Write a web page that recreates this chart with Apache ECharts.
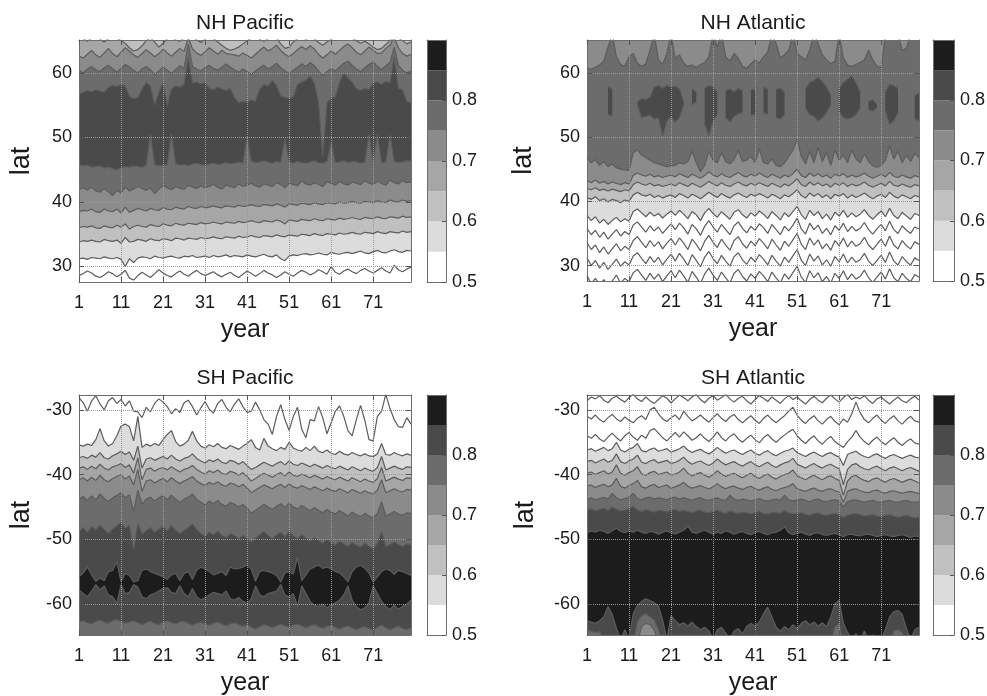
<!DOCTYPE html>
<html><head><meta charset="utf-8">
<script src="https://cdn.jsdelivr.net/npm/echarts@6/dist/echarts.min.js"></script>
<style>html,body{margin:0;padding:0;background:#fff}#c{width:987px;height:696px}</style>
</head><body><div id="c"></div>
<script>
const _ = null;
const years = [1,2,3,4,5,6,7,8,9,10,11,12,13,14,15,16,17,18,19,20,21,22,23,24,25,26,27,28,29,30,31,32,33,34,35,36,37,38,39,40,41,42,43,44,45,46,47,48,49,50,51,52,53,54,55,56,57,58,59,60,61,62,63,64,65,66,67,68,69,70,71,72,73,74,75,76,77,78,79,80];
const xTicks = [1,11,21,31,41,51,61,71];
const nhLatTicks = [30,40,50,60];
const shLatTicks = [-60,-50,-40,-30];
const cbLevels = [0.5,0.55,0.6,0.65,0.7,0.75,0.8,0.85,0.9];
const cbTicks = [0.5,0.6,0.7,0.8];

// ---- NH Pacific : latitude of each contour line, per year ----
const nhpB0 = [65.6,65.3,64.9,65.4,65.8,65.2,64.8,65.3,65.7,65.4, 65.0,64.6,63.9,63.4,63.6,64.2,65.0,65.4,64.8,64.0, 64.6,65.3,65.6,65.1,64.9,65.4,66.0,65.6,65.1,64.7, 65.2,65.6,65.3,64.8,64.3,63.8,63.5,63.7,64.0,64.5, 65.0,65.4,65.7,65.2,64.9,65.3,65.6,65.4,64.5,63.8, 64.0,64.8,65.3,65.6,65.2,65.5,65.3,64.7,64.3,64.8, 65.2,65.5,65.6,65.3,65.7,65.4,65.0,64.6,64.9,64.5, 64.0,63.6,63.8,64.4,65.0,66.0,65.4,65.0,64.5,64.8];
const nhpB1 = [62.6,62.3,62.9,63.5,62.8,62.4,63.1,63.8,63.0,62.5, 63.2,63.9,63.4,62.8,62.4,63.0,63.6,63.1,62.5,63.0, 63.7,63.1,62.6,63.2,63.8,63.3,65.5,63.7,63.1,62.7, 63.3,63.9,63.4,62.9,63.5,63.0,62.9,62.8,62.6,63.1, 62.7,62.3,62.9,63.5,64.0,63.4,63.8,64.3,63.5,62.9, 62.5,63.0,63.6,64.1,63.6,64.2,63.7,62.9,62.3,62.8, 63.4,62.9,63.5,64.1,64.5,63.9,63.2,62.8,63.4,64.0, 63.5,63.0,63.1,63.8,64.3,65.5,63.9,63.0,62.6,62.9];
const nhpB2 = [60.4,60.0,60.6,61.0,60.5,60.2,60.8,61.2,60.6,60.1, 60.7,61.3,60.9,60.4,60.0,60.6,61.0,60.5,59.8,60.3, 60.9,60.4,59.9,60.5,61.1,60.7,64.5,61.0,60.6,60.3, 60.8,61.2,60.7,60.4,60.9,61.4,60.9,60.5,60.1,60.6, 60.2,59.8,60.3,60.8,61.2,60.6,61.0,61.5,60.8,60.3, 59.9,60.4,60.9,61.4,61.0,61.6,61.1,60.3,59.6,60.2, 60.7,60.3,60.9,61.5,61.8,61.2,60.6,60.2,60.8,61.3, 61.7,61.0,60.5,61.1,61.6,64.0,61.2,60.4,60.0,60.3];
const nhpB3 = [56.7,57.0,57.3,57.1,57.4,57.2,57.0,57.8,58.1,57.9, 58.2,58.0,56.4,56.0,56.2,57.5,58.5,58.0,55.0,57.0, 58.5,55.0,57.5,58.0,57.8,58.2,62.5,58.4,58.6,58.3, 58.5,57.6,57.4,57.8,57.5,57.3,57.6,56.2,55.4,55.6, 55.5,55.8,55.6,57.5,58.2,58.0,58.8,58.1,56.4,56.2, 56.0,56.3,58.2,58.6,58.9,59.5,58.4,55.5,47.0,55.4, 56.1,56.3,58.5,60.0,59.2,58.6,57.5,57.3,57.6,57.4, 58.4,58.6,58.2,58.7,58.5,62.5,57.6,57.4,55.6,55.4];
const nhpB4 = [45.8,45.6,45.7,45.4,45.5,45.6,45.3,45.4,45.2,45.0, 45.3,45.5,45.4,45.6,45.5,45.4,45.7,50.6,45.8,45.6, 45.7,45.8,50.6,45.9,45.7,45.8,45.6,45.9,46.0,45.8, 45.7,45.9,46.0,45.8,45.9,46.1,45.9,46.0,46.2,46.0, 50.2,46.3,46.1,46.2,46.4,46.2,46.0,46.3,46.1,49.8, 46.2,46.0,46.3,46.1,46.0,46.2,46.4,46.1,46.0,46.3, 49.2,46.1,46.2,46.4,46.1,46.3,46.2,46.0,46.2,50.4, 46.3,50.4,46.1,46.2,50.4,46.3,46.1,46.2,46.4,46.3];
const nhpB5 = [41.9,42.2,41.8,42.3,41.7,41.5,42.1,41.6,41.0,41.8, 41.4,42.3,41.7,42.0,42.4,42.1,41.8,42.2,41.3,42.0, 42.5,42.2,41.9,42.4,42.1,42.0,42.6,42.3,42.1,42.5, 42.2,42.4,42.7,42.3,42.0,42.6,42.4,42.2,42.8,42.4, 42.6,42.9,42.5,42.3,42.8,42.6,42.4,43.0,42.7,42.2, 42.9,42.7,42.5,43.3,42.8,42.6,43.0,42.7,42.4,43.1, 42.9,42.6,43.2,42.8,42.6,43.1,42.9,42.7,43.3,42.9, 42.7,43.2,42.9,42.6,43.4,43.0,42.8,43.3,43.0,43.1];
const nhpB6 = [38.5,38.7,38.6,38.9,38.5,38.4,38.9,38.6,38.5,38.9, 38.3,39.2,38.4,38.7,39.0,38.8,38.6,39.0,38.8,38.7, 39.1,38.9,38.8,39.2,39.0,38.9,39.3,39.1,39.0,39.3, 39.1,39.2,39.4,39.2,39.1,39.4,39.3,39.2,39.5,39.3, 39.4,39.6,39.4,39.3,39.6,39.5,39.4,39.7,39.5,39.2, 39.7,39.6,39.5,39.8,39.7,39.6,39.9,39.7,39.6,39.9, 39.8,39.7,40.0,39.8,39.9,40.1,39.9,39.8,40.1,40.0, 39.9,40.2,40.0,39.9,40.3,40.1,40.0,40.3,40.1,40.2];
const nhpB7 = [36.0,36.2,36.1,36.3,36.0,35.9,36.3,36.1,36.0,36.4, 36.1,36.6,35.8,36.2,36.4,36.2,36.1,36.5,36.3,36.2, 36.6,36.4,36.3,36.7,36.5,36.4,36.7,36.6,36.5,36.8, 36.6,36.7,36.9,36.7,36.6,36.9,36.8,36.7,37.0,36.8, 36.9,37.1,36.9,36.8,37.1,37.0,36.9,37.2,37.0,36.6, 37.2,37.1,37.0,37.3,37.2,37.1,37.4,37.2,37.1,37.4, 37.3,37.2,37.5,37.3,37.4,37.6,37.4,37.3,37.6,37.5, 37.4,37.7,37.5,37.4,37.7,37.6,37.5,37.8,37.6,37.7];
const nhpB8 = [33.8,34.0,33.9,34.1,33.9,33.8,34.2,34.0,33.9,34.1, 33.6,34.5,33.8,33.9,34.2,34.1,33.9,34.3,34.1,34.0, 34.3,34.2,34.0,34.4,34.3,34.1,34.4,34.3,34.2,34.5, 34.3,34.4,34.6,34.4,34.3,34.6,34.5,34.4,34.7,34.5, 34.6,34.8,34.6,34.5,34.8,34.7,34.6,34.9,34.7,34.6, 34.9,34.8,34.7,35.0,34.9,34.8,35.1,34.9,34.8,35.1, 35.0,34.9,35.2,35.0,35.1,35.3,35.1,35.0,35.3,35.2, 35.1,35.4,35.2,35.1,35.4,35.3,35.2,35.5,35.3,35.4];
const nhpB9 = [31.2,31.3,31.1,31.4,31.3,31.2,31.5,31.3,31.2,31.4, 31.1,30.0,31.2,30.6,31.3,31.5,31.4,31.2,31.6,31.4, 31.3,31.5,31.6,31.4,31.3,31.6,31.5,31.7,31.4,31.5, 31.6,31.4,31.7,31.5,31.6,31.8,31.5,31.7,31.6,31.5, 31.8,31.6,31.5,31.7,31.9,31.6,31.5,31.8,31.2,30.9, 31.6,31.8,31.7,31.9,32.0,31.8,31.9,32.1,31.9,31.8, 32.2,32.0,31.9,32.1,32.2,32.0,32.2,32.4,32.1,32.0, 32.3,32.5,32.2,32.1,32.4,32.6,32.3,32.2,32.5,32.4];
const nhpB10 = [28.6,28.9,29.3,29.0,28.5,28.3,28.7,29.2,28.9,28.4, 28.8,29.4,28.2,27.9,28.6,29.1,28.7,28.3,28.9,29.5, 29.0,28.6,28.4,28.9,29.3,28.8,28.5,29.0,29.4,28.9, 28.6,28.9,29.2,28.7,28.4,28.8,29.1,28.6,28.3,28.8, 29.3,28.9,28.5,28.9,29.4,29.0,28.7,28.3,28.7,29.2, 28.8,28.5,29.0,29.4,29.1,28.7,29.0,29.5,29.2,28.8, 30.0,29.1,28.8,29.3,29.6,29.2,28.9,29.4,29.7,29.3, 29.0,29.4,29.8,29.3,29.0,30.2,29.5,29.2,29.6,29.9];

// ---- NH Atlantic ----
const nhaTop = [60.8,60.5,60.9,61.2,61.8,64.0,66.0,62.5,61.3,61.0, 62.5,63.0,61.5,61.0,61.4,63.5,66.0,62.0,61.3,63.0, 66.0,62.2,62.8,61.5,61.0,61.2,60.8,61.3,61.6,62.5, 66.0,64.0,66.0,62.5,61.8,63.0,62.2,61.0,60.7,61.4, 62.0,61.5,62.5,63.2,66.0,64.5,62.3,62.8,63.5,66.0, 63.0,62.5,62.0,63.5,66.0,64.5,62.8,62.0,61.4,61.8, 66.0,62.3,61.2,61.0,61.3,61.6,62.0,63.5,62.0,61.0, 60.8,66.0,66.0,66.0,66.0,63.5,63.8,66.0,66.0,66.0];
const nhaBlobTop = [_,_,_,_,_,57.8,57.5,_,_,_, _,_,55.5,56.0,55.8,56.2,57.8,58.0,57.6,58.0, 57.8,57.9,57.5,55.5,_,57.5,57.0,_,57.6,58.0, 57.8,57.0,_,57.2,57.5,57.0,57.6,57.2,_,57.4, 57.3,_,57.8,57.5,_,57.4,57.6,57.0,_,_, _,_,57.5,58.5,58.8,59.3,58.6,57.8,56.5,_, 57.5,58.5,59.0,59.5,58.5,57.0,_,55.5,55.8,55.0, _,57.0,58.2,58.0,57.5,_,_,_,56.5,56.8];
const nhaBlobBot = [_,_,_,_,_,53.5,53.3,_,_,_, _,_,55.0,53.0,53.2,53.4,52.8,53.0,50.2,52.5, 53.2,52.3,53.0,55.0,_,55.0,55.5,_,52.0,50.2, 52.5,53.5,_,53.0,52.3,53.2,53.6,53.8,_,53.4, 53.5,_,53.8,53.5,_,53.0,52.8,53.5,_,_, _,_,54.5,53.5,53.2,52.5,53.0,53.8,55.0,_, 54.0,53.0,52.8,53.0,53.5,54.5,_,54.3,54.0,54.6, _,54.0,52.0,52.5,53.8,_,_,_,52.8,52.5];
const nhaB6 = [46.8,46.0,46.5,45.6,46.2,45.4,45.8,45.2,45.0,44.9, 44.8,47.6,48.0,47.2,46.8,46.4,46.0,45.8,45.6,45.4, 45.5,45.6,46.0,45.8,46.2,47.8,46.0,44.6,45.6,47.8, 46.4,46.0,47.6,46.2,45.8,46.5,47.9,46.2,46.4,47.0, 46.0,48.2,46.0,45.8,46.6,45.6,45.4,46.0,47.0,48.0, 49.6,47.0,45.8,47.8,46.0,48.4,46.2,47.6,45.6,48.0, 46.4,47.2,46.0,48.0,46.6,46.0,47.4,46.2,45.5,45.3, 45.6,46.4,48.6,46.6,47.8,46.0,47.2,46.2,47.5,46.8];
const nhaB5 = [43.2,42.9,43.3,42.8,43.1,42.7,43.0,42.8,42.6,42.9, 42.7,44.0,44.4,44.1,43.9,44.2,43.8,44.0,43.7,43.9, 44.1,43.8,44.3,44.0,43.7,44.2,43.9,43.6,44.0,44.6, 44.1,43.8,44.3,43.9,43.7,44.1,44.5,44.0,43.8,44.2, 43.9,44.4,44.0,43.7,44.2,43.9,43.6,44.1,43.8,44.3, 45.0,44.0,43.7,44.4,43.9,44.3,43.8,44.1,43.6,44.2, 43.9,44.3,43.7,44.1,43.8,44.0,44.4,43.9,43.6,43.9, 44.2,43.8,44.5,43.9,43.7,44.1,43.8,43.6,44.0,43.8];
const nhaB4 = [42.0,41.8,42.1,41.7,41.9,41.6,41.9,41.7,41.5,41.8, 41.6,42.6,43.0,42.7,42.5,42.8,42.4,42.6,42.3,42.5, 42.7,42.4,42.9,42.6,42.3,42.8,42.5,42.2,42.6,43.1, 42.7,42.4,42.9,42.5,42.3,42.7,43.0,42.6,42.4,42.8, 42.5,42.9,42.6,42.3,42.8,42.5,42.2,42.7,42.4,42.9, 43.5,42.6,42.3,43.0,42.5,42.9,42.4,42.7,42.2,42.8, 42.5,42.9,42.3,42.7,42.4,42.6,43.0,42.5,42.2,42.5, 42.8,42.4,43.1,42.5,42.3,42.7,42.4,42.2,42.6,42.4];
const nhaB3 = [40.6,40.3,40.7,40.1,40.4,39.9,40.3,40.1,39.8,40.2, 40.0,41.0,41.4,41.0,40.8,41.1,40.6,40.9,40.5,40.8, 41.0,40.6,41.2,40.9,40.5,41.1,40.8,40.4,40.9,41.4, 41.0,40.6,41.2,40.8,40.5,41.0,41.3,40.9,40.6,41.1, 40.8,41.2,40.9,40.5,41.1,40.8,40.4,41.0,40.7,41.2, 41.8,40.9,40.5,41.3,40.8,41.2,40.6,41.0,40.4,41.1, 40.8,41.2,40.5,41.0,40.6,40.9,41.3,40.8,40.4,40.8, 41.1,40.6,41.4,40.8,40.5,41.0,40.7,40.4,40.9,40.7];
const nhaB2 = [37.8,37.0,37.6,36.6,37.2,36.4,37.0,37.5,36.8,37.3, 36.9,38.4,38.8,38.2,37.6,38.3,37.7,38.1,37.4,38.0, 38.5,37.8,38.6,38.0,37.3,38.4,37.9,37.0,38.2,38.9, 38.1,37.5,38.4,37.8,37.2,38.3,38.7,37.9,37.4,38.2, 37.7,38.5,38.0,37.3,38.4,37.8,37.1,38.2,37.6,38.4, 39.2,37.9,37.2,38.6,37.8,38.4,37.3,38.0,37.1,38.3, 37.7,38.6,37.5,38.2,37.6,38.0,38.7,37.8,37.2,37.9, 38.5,37.6,38.9,37.8,37.3,38.3,37.7,37.2,38.1,37.8];
const nhaB1 = [35.8,34.8,35.5,34.4,35.2,34.1,34.9,35.6,34.6,35.3, 34.8,36.3,36.8,36.0,35.2,36.2,35.4,36.0,35.0,35.8, 36.5,35.6,36.6,35.9,34.9,36.4,35.7,34.7,36.1,37.0, 36.0,35.2,36.4,35.6,34.8,36.2,36.8,35.8,35.1,36.1, 35.5,36.5,35.9,35.0,36.4,35.6,34.8,36.1,35.4,36.3, 37.4,35.7,34.9,36.6,35.6,36.3,35.0,35.8,34.8,36.2, 35.5,36.6,35.3,36.1,35.4,35.8,36.7,35.6,34.9,35.7, 36.4,35.4,36.9,35.6,35.0,36.2,35.5,35.0,36.0,35.7];
const nhaB0a = [33.6,32.5,33.2,32.0,32.9,31.8,32.6,33.4,32.3,33.0, 32.5,33.9,34.5,33.6,32.8,33.9,33.0,33.7,32.6,33.5, 34.2,33.2,34.3,33.5,32.5,34.1,33.3,32.3,33.8,34.7, 33.6,32.8,34.1,33.2,32.4,33.9,34.5,33.4,32.7,33.8, 33.1,34.2,33.5,32.6,34.1,33.2,32.4,33.8,33.0,34.0, 35.0,33.3,32.5,34.3,33.2,34.0,32.6,33.4,32.4,33.9, 33.1,34.3,32.9,33.8,33.0,33.4,34.4,33.2,32.5,33.3, 34.1,33.0,34.6,33.2,32.6,33.9,33.1,32.6,33.7,33.3];
const nhaB0b = [31.2,30.0,30.8,29.6,30.5,29.4,30.2,31.0,29.9,30.6, 30.1,31.5,32.0,31.1,30.3,31.4,30.5,31.3,30.1,31.0, 31.8,30.7,31.9,31.0,30.0,31.7,30.8,29.8,31.3,32.2, 31.1,30.3,31.6,30.7,29.9,31.4,32.0,30.9,30.2,31.3, 30.6,31.7,31.0,30.1,31.6,30.7,29.9,31.3,30.5,31.5, 32.5,30.8,30.0,31.8,30.7,31.5,30.1,30.9,29.9,31.4, 30.6,31.8,30.4,31.3,30.5,30.9,31.9,30.7,30.0,30.8, 31.6,30.5,32.1,30.7,30.1,31.4,30.6,30.1,31.2,30.8];
const nhaB0c = [28.4,27.2,28.0,27.0,27.8,26.9,27.6,28.5,27.3,28.0, 27.5,28.9,29.4,28.5,27.7,28.8,27.9,28.7,27.5,28.4, 29.2,28.1,29.3,28.4,27.4,29.1,28.2,27.2,28.7,29.6, 28.5,27.7,29.0,28.1,27.3,28.8,29.4,28.3,27.6,28.7, 28.0,29.1,28.4,27.5,29.0,28.1,27.3,28.7,27.9,28.9, 29.9,28.2,27.4,29.2,28.1,28.9,27.5,28.3,27.3,28.8, 28.0,29.2,27.8,28.7,27.9,28.3,29.3,28.1,27.4,28.2, 29.0,27.9,29.5,28.1,27.5,28.8,28.0,27.5,28.6,28.2];

// ---- SH Pacific ----
const shpL1 = [-28.1,-28.9,-30.2,-28.6,-27.8,-29.1,-30.0,-28.6,-28.1,-29.0, -28.4,-29.4,-28.6,-30.2,-30.3,-31.2,-29.6,-30.3,-29.0,-28.3, -28.8,-29.5,-30.6,-29.8,-30.4,-28.9,-28.5,-29.5,-30.8,-29.7, -28.7,-29.9,-30.5,-29.0,-28.4,-29.6,-30.3,-29.1,-28.3,-29.5, -30.4,-30.2,-28.8,-30.0,-31.5,-32.2,-33.8,-31.0,-29.2,-31.5, -33.2,-31.0,-29.6,-33.0,-34.3,-31.5,-31.7,-29.5,-31.2,-33.7, -32.0,-30.2,-29.4,-31.0,-33.2,-34.0,-31.5,-29.3,-31.6,-34.6, -34.8,-31.0,-30.2,-27.6,-29.8,-31.5,-32.6,-32.7,-31.2,-32.2];
const shpL2 = [-35.4,-35.6,-35.3,-35.5,-34.6,-32.9,-34.8,-35.6,-35.2,-34.0, -32.5,-32.2,-32.6,-34.8,-31.0,-35.8,-35.3,-35.6,-35.2,-35.5, -34.6,-33.8,-33.2,-34.9,-35.6,-35.3,-34.7,-33.3,-34.8,-35.6, -35.9,-35.4,-35.7,-35.2,-35.8,-36.0,-35.5,-35.8,-36.1,-35.6, -35.2,-34.6,-35.8,-36.2,-34.4,-35.6,-36.0,-36.3,-35.8,-36.1, -35.0,-35.9,-36.2,-36.4,-35.8,-36.3,-35.6,-36.4,-36.6,-36.2, -36.7,-36.9,-36.4,-36.8,-37.0,-36.6,-36.9,-37.1,-36.8,-37.1, -37.2,-36.8,-35.2,-36.9,-37.0,-36.6,-36.9,-37.1,-36.8,-37.0];
const shpL3 = [-37.4,-37.2,-37.5,-37.0,-37.3,-36.6,-37.4,-37.6,-37.1,-36.8, -36.4,-36.9,-36.5,-37.8,-35.6,-39.0,-37.6,-37.4,-37.8,-37.5, -37.2,-37.6,-37.0,-37.6,-37.9,-37.5,-37.3,-36.8,-37.5,-37.9, -38.2,-37.7,-38.0,-37.6,-38.1,-38.3,-37.8,-38.0,-38.4,-38.0, -38.6,-39.2,-38.9,-38.5,-38.1,-38.4,-38.7,-38.3,-38.0,-38.5, -37.9,-38.4,-38.6,-38.2,-38.5,-38.8,-38.4,-38.7,-39.0,-38.6, -38.9,-39.1,-38.7,-39.0,-39.3,-38.8,-39.1,-39.4,-39.0,-39.3, -39.5,-38.9,-37.2,-39.3,-39.0,-38.7,-39.0,-39.2,-38.8,-38.9];
const shpL4 = [-39.0,-38.8,-39.2,-38.7,-39.1,-38.4,-39.0,-39.3,-38.8,-38.6, -38.3,-38.9,-38.5,-39.8,-37.4,-40.8,-39.2,-39.0,-39.5,-39.1, -38.9,-39.3,-38.8,-39.2,-39.6,-39.2,-39.0,-38.6,-39.2,-39.6, -39.9,-39.4,-39.7,-39.3,-39.8,-40.0,-39.5,-39.7,-40.1,-39.7, -40.3,-41.0,-40.6,-40.2,-39.8,-40.1,-40.4,-40.0,-39.7,-40.2, -39.6,-40.1,-40.3,-39.9,-40.2,-40.5,-40.1,-40.4,-40.7,-40.3, -40.6,-40.8,-40.4,-40.7,-41.0,-40.5,-40.8,-41.1,-40.7,-41.0, -41.2,-40.6,-38.9,-41.0,-40.7,-40.4,-40.7,-40.9,-40.5,-40.6];
const shpL5 = [-40.8,-40.5,-41.0,-40.4,-40.9,-40.1,-40.8,-41.1,-40.6,-40.3, -40.0,-40.7,-40.2,-41.6,-39.2,-42.6,-41.0,-40.8,-41.3,-40.9, -40.6,-41.1,-40.5,-41.0,-41.4,-41.0,-40.7,-40.3,-41.0,-41.4, -41.7,-41.2,-41.5,-41.1,-41.6,-41.8,-41.3,-41.5,-41.9,-41.5, -42.1,-42.8,-42.4,-42.0,-41.6,-41.9,-42.2,-41.8,-41.5,-42.0, -41.4,-41.9,-42.1,-41.7,-42.0,-42.3,-41.9,-42.2,-42.5,-42.1, -42.4,-42.6,-42.2,-42.5,-42.8,-42.3,-42.6,-42.9,-42.5,-42.8, -43.0,-42.4,-40.8,-42.8,-42.5,-42.2,-42.5,-42.7,-42.3,-42.4];
const shpL6 = [-43.8,-43.4,-44.0,-43.3,-43.9,-43.0,-43.7,-44.2,-43.6,-43.2, -42.8,-43.6,-43.1,-45.8,-42.4,-44.6,-43.8,-43.5,-44.1,-43.6, -43.3,-43.9,-43.2,-43.8,-44.3,-43.8,-43.5,-43.0,-43.8,-44.3, -44.7,-44.1,-44.5,-44.0,-44.6,-44.9,-44.3,-44.6,-45.0,-44.6, -45.2,-46.0,-45.5,-45.1,-44.6,-45.0,-45.4,-44.9,-44.5,-45.1, -44.4,-45.0,-45.3,-44.8,-45.2,-45.6,-45.1,-45.5,-45.9,-45.4, -45.8,-46.1,-45.6,-46.0,-46.4,-45.8,-46.2,-46.5,-46.0,-46.4, -46.7,-46.0,-44.2,-46.4,-46.1,-45.7,-46.1,-46.3,-45.9,-46.0];
const shpL7 = [-48.8,-48.2,-48.9,-48.0,-48.6,-47.8,-48.5,-49.1,-48.4,-47.9, -47.4,-48.3,-47.8,-51.6,-47.6,-49.2,-48.6,-48.2,-48.9,-48.4, -48.0,-48.7,-47.9,-48.6,-49.1,-48.6,-48.2,-47.6,-48.5,-49.1, -49.5,-48.9,-49.3,-48.7,-49.4,-49.7,-49.1,-49.4,-49.9,-49.4, -49.8,-50.4,-49.8,-49.3,-48.8,-49.4,-49.9,-49.3,-48.9,-49.6, -48.8,-49.5,-49.9,-49.3,-49.8,-50.3,-49.7,-50.2,-50.6,-50.0, -50.5,-50.9,-50.3,-50.7,-51.1,-50.5,-50.9,-51.2,-50.6,-51.1, -51.4,-50.6,-48.8,-51.1,-50.8,-50.4,-50.8,-51.1,-50.7,-50.9];
const shpBlobTop = [-55.8,-55.2,-54.3,-55.5,-56.5,-56.0,-56.4,-55.0,-54.8,-53.5, -56.6,-55.3,-55.6,-56.6,-56.4,-54.8,-54.6,-55.0,-55.3,-55.5, -55.8,-56.2,-55.5,-55.3,-56.4,-55.3,-55.0,-56.2,-54.8,-54.3, -54.6,-55.0,-55.5,-55.3,-55.0,-55.6,-54.3,-54.6,-54.5,-54.3, -54.0,-54.6,-56.5,-55.0,-54.8,-55.0,-55.2,-55.6,-56.6,-55.2, -55.0,-55.4,-52.8,-56.4,-55.5,-54.6,-54.3,-54.0,-54.5,-54.3, -54.6,-55.0,-55.2,-55.8,-56.6,-55.0,-54.3,-54.0,-54.5,-55.2, -56.6,-55.8,-55.0,-54.6,-54.8,-55.4,-54.8,-55.0,-55.3,-55.6];
const shpBlobBot = [-57.8,-58.4,-58.9,-58.0,-57.0,-57.8,-57.2,-58.6,-58.9,-59.9, -57.0,-58.4,-58.2,-57.0,-57.4,-58.9,-59.2,-58.6,-58.4,-58.0, -57.6,-57.5,-58.2,-58.4,-57.2,-58.4,-58.9,-57.6,-58.9,-59.4, -59.0,-58.6,-58.2,-58.4,-58.6,-58.0,-59.2,-59.4,-59.0,-59.6, -59.9,-59.2,-57.2,-58.6,-58.9,-58.4,-58.2,-58.0,-57.0,-58.6, -58.9,-58.4,-60.4,-57.2,-58.4,-59.6,-60.2,-60.4,-60.0,-60.6, -60.2,-59.8,-59.4,-58.6,-57.2,-59.4,-60.4,-60.9,-60.6,-59.8, -57.2,-58.4,-59.6,-60.4,-60.9,-60.2,-60.8,-60.4,-60.0,-59.4];
const shpL8 = [-62.8,-62.6,-62.9,-63.1,-62.7,-62.5,-62.8,-63.0,-62.6,-62.4, -62.7,-63.0,-62.8,-62.6,-62.9,-63.2,-62.9,-62.7,-63.0,-63.2, -62.8,-62.6,-62.9,-63.1,-62.8,-62.7,-63.0,-63.3,-63.0,-62.8, -63.1,-63.3,-63.0,-62.8,-63.1,-63.4,-63.1,-62.9,-63.2,-63.5, -63.2,-63.6,-63.9,-63.5,-63.2,-63.4,-63.7,-63.4,-63.1,-63.4, -63.6,-63.3,-63.1,-63.4,-63.7,-63.4,-63.2,-63.5,-63.8,-63.5, -63.3,-63.6,-63.9,-63.6,-63.4,-63.7,-64.0,-63.7,-63.5,-63.8, -64.1,-63.6,-63.3,-63.7,-64.0,-63.7,-63.4,-63.8,-64.0,-63.7];

// ---- SH Atlantic ----
const shaS1 = [-28.6,-28.0,-28.3,-27.8,-28.5,-28.9,-28.2,-27.9,-28.4,-28.8, -28.1,-27.6,-28.3,-28.7,-28.0,-28.6,-29.0,-28.4,-27.8,-28.2, -28.9,-28.3,-27.7,-28.1,-28.6,-28.0,-27.6,-28.4,-28.9,-28.2, -27.8,-28.5,-28.1,-27.6,-28.3,-28.8,-28.2,-27.9,-28.6,-29.1, -28.4,-27.8,-28.2,-28.7,-28.0,-28.5,-29.0,-28.3,-27.8,-28.4, -28.0,-28.6,-29.1,-28.4,-27.9,-28.5,-28.9,-28.2,-27.7,-28.3, -28.8,-28.1,-27.6,-28.4,-28.0,-28.3,-27.8,-28.5,-29.0,-28.3, -28.0,-28.6,-29.1,-28.5,-28.0,-28.6,-28.9,-28.3,-27.9,-28.5];
const shaS2 = [-31.0,-31.4,-30.8,-31.5,-31.9,-31.2,-30.7,-31.4,-31.8,-31.1, -31.6,-32.0,-31.3,-30.9,-31.5,-30.0,-29.6,-30.6,-31.4,-31.8, -31.2,-30.8,-31.5,-30.2,-31.0,-31.7,-31.3,-30.8,-31.4,-31.9, -31.2,-30.6,-31.3,-31.8,-31.1,-30.7,-31.5,-32.0,-31.4,-30.9, -31.6,-32.1,-31.3,-30.8,-31.5,-32.0,-31.4,-30.9,-30.2,-29.6, -30.8,-31.6,-32.1,-31.4,-30.9,-31.7,-32.2,-31.5,-31.0,-31.8, -32.3,-31.4,-31.9,-30.6,-28.8,-30.4,-31.5,-32.0,-31.3,-30.8, -31.6,-32.1,-31.4,-30.9,-31.7,-32.2,-31.5,-31.0,-31.7,-31.9];
const shaS3 = [-34.0,-34.4,-33.8,-34.5,-34.9,-34.2,-33.6,-34.3,-34.8,-34.0, -33.5,-34.2,-34.7,-33.9,-34.4,-33.2,-32.9,-33.6,-34.3,-34.8, -34.1,-33.5,-34.2,-33.4,-34.0,-34.7,-34.3,-33.7,-34.4,-34.9, -34.2,-33.4,-34.3,-34.8,-34.1,-33.7,-34.5,-35.0,-34.4,-33.9, -34.6,-35.1,-34.3,-33.8,-34.5,-35.0,-34.4,-33.9,-33.4,-33.0, -34.0,-34.7,-35.2,-34.5,-34.0,-34.8,-35.3,-34.6,-34.1,-34.9, -35.4,-35.8,-34.9,-34.2,-33.2,-34.2,-34.9,-35.4,-34.7,-34.2, -34.9,-35.4,-34.8,-34.3,-35.0,-35.5,-34.9,-34.5,-35.1,-35.3];
const shaS4 = [-36.2,-36.0,-36.4,-36.1,-35.8,-36.3,-36.0,-35.0,-36.2,-36.5, -36.1,-35.8,-35.2,-36.3,-36.5,-36.1,-35.9,-36.4,-36.2,-36.0, -36.5,-36.3,-36.0,-35.6,-36.2,-36.6,-36.3,-36.1,-36.5,-36.8, -36.4,-35.8,-36.3,-36.7,-36.4,-36.2,-36.6,-36.9,-36.5,-36.2, -36.7,-37.0,-36.6,-36.3,-36.8,-37.1,-36.7,-36.4,-36.2,-35.9, -36.6,-36.9,-37.2,-36.8,-36.5,-36.9,-37.2,-36.8,-36.6,-37.0, -37.3,-38.6,-36.9,-36.6,-36.4,-36.9,-37.2,-37.4,-37.0,-36.8, -37.2,-37.5,-37.1,-36.9,-37.2,-37.5,-37.2,-37.0,-37.3,-37.4];
const shaS5 = [-38.0,-37.8,-38.2,-37.9,-37.6,-38.1,-37.8,-36.8,-38.0,-38.3, -37.9,-37.6,-37.0,-38.1,-38.3,-37.9,-37.7,-38.2,-38.0,-37.8, -38.3,-38.1,-37.8,-37.3,-38.0,-38.4,-38.1,-37.9,-38.3,-38.6, -38.2,-37.6,-38.1,-38.5,-38.2,-38.0,-38.4,-38.7,-38.3,-38.0, -38.5,-38.8,-38.4,-38.1,-38.6,-38.9,-38.5,-38.2,-38.0,-37.5, -38.4,-38.7,-39.0,-38.6,-38.3,-38.7,-39.0,-38.6,-38.4,-38.8, -39.1,-41.6,-39.2,-38.5,-38.3,-38.8,-39.1,-39.3,-38.9,-38.7, -39.1,-39.4,-39.0,-38.8,-39.1,-39.4,-39.1,-38.9,-39.2,-39.5];
const shaS6 = [-39.8,-39.6,-40.0,-39.7,-39.4,-39.9,-39.6,-38.5,-39.8,-40.1, -39.7,-39.4,-38.8,-39.9,-40.1,-39.7,-39.5,-40.0,-39.8,-39.6, -40.1,-39.9,-39.6,-39.0,-39.8,-40.2,-39.9,-39.7,-40.1,-40.4, -40.0,-39.4,-39.9,-40.3,-40.0,-39.8,-40.2,-40.5,-40.1,-39.8, -40.3,-40.6,-40.2,-39.9,-40.4,-40.7,-40.3,-40.0,-39.8,-39.3, -40.2,-40.5,-40.8,-40.4,-40.1,-40.5,-40.8,-40.4,-40.2,-40.6, -40.9,-43.2,-41.0,-40.3,-40.1,-40.6,-40.9,-41.1,-40.7,-40.5, -40.9,-41.2,-40.8,-40.6,-40.9,-41.2,-40.9,-40.7,-41.0,-41.3];
const shaS7 = [-41.8,-41.6,-42.0,-41.7,-41.5,-41.9,-41.6,-40.6,-41.8,-42.1, -41.7,-41.4,-40.9,-41.9,-42.1,-41.7,-41.5,-42.0,-41.8,-41.6, -42.1,-41.9,-41.6,-41.2,-41.8,-42.1,-41.9,-41.7,-42.0,-42.2, -41.9,-41.4,-41.9,-42.2,-41.9,-41.8,-42.1,-42.3,-42.0,-41.8, -42.2,-42.4,-42.1,-41.9,-42.3,-42.5,-42.2,-42.0,-41.8,-41.4, -42.2,-42.4,-42.6,-42.3,-42.1,-42.4,-42.6,-42.3,-42.2,-42.5, -42.7,-44.3,-42.6,-42.3,-42.2,-42.5,-42.7,-42.8,-42.5,-42.4, -42.7,-42.9,-42.6,-42.5,-42.7,-42.9,-42.7,-42.6,-42.8,-42.9];
const shaS8 = [-43.8,-43.6,-43.9,-43.7,-43.5,-43.8,-42.9,-43.6,-43.9,-43.7, -43.5,-42.9,-43.7,-43.9,-43.6,-43.5,-43.8,-43.6,-43.7,-43.9, -43.6,-43.5,-43.8,-43.6,-43.8,-44.0,-43.7,-43.6,-43.9,-44.0, -43.8,-43.6,-43.9,-44.0,-43.2,-43.8,-44.0,-43.8,-43.9,-44.1, -43.9,-43.7,-44.0,-44.1,-43.9,-43.8,-44.0,-43.2,-43.9,-44.1, -43.9,-43.8,-44.0,-44.2,-43.9,-43.8,-44.1,-44.2,-44.0,-43.9, -44.1,-45.0,-44.2,-44.0,-43.9,-44.1,-44.3,-44.1,-44.0,-44.2, -44.3,-44.1,-44.0,-44.2,-44.3,-44.1,-44.0,-44.2,-44.3,-44.2];
const shaS9 = [-45.5,-45.3,-45.6,-45.4,-45.2,-45.5,-45.0,-45.4,-45.6,-45.5, -45.3,-44.9,-45.5,-45.7,-45.4,-45.6,-45.8,-45.5,-45.6,-45.8, -45.5,-45.4,-45.7,-45.5,-45.7,-45.9,-45.6,-45.5,-45.8,-45.9, -45.7,-45.5,-45.8,-46.0,-45.6,-45.8,-46.0,-45.8,-45.9,-46.1, -45.9,-45.7,-46.0,-46.1,-45.9,-45.8,-46.0,-45.6,-45.9,-46.1, -46.0,-45.9,-46.1,-46.3,-46.0,-45.9,-46.2,-46.3,-46.1,-46.0, -46.2,-46.6,-46.3,-46.1,-46.0,-46.2,-46.4,-46.3,-46.2,-46.4, -46.5,-46.3,-46.2,-46.4,-46.6,-46.4,-46.3,-46.5,-46.7,-46.6];
const shaS10 = [-49.0,-48.7,-48.9,-48.6,-48.8,-49.1,-48.7,-48.3,-48.8,-49.0, -48.7,-48.9,-48.6,-48.9,-49.1,-48.8,-48.9,-49.2,-48.9,-48.7, -49.0,-49.2,-48.9,-48.6,-48.0,-48.9,-49.1,-48.8,-48.6,-48.9, -49.2,-48.9,-49.1,-48.7,-48.9,-49.2,-49.0,-48.8,-49.1,-49.3, -49.0,-48.8,-49.1,-49.3,-49.0,-48.9,-48.6,-48.1,-49.0,-49.3, -49.1,-48.9,-49.2,-49.4,-49.1,-49.0,-49.3,-49.4,-49.2,-49.1, -49.3,-49.6,-49.3,-49.2,-49.4,-49.5,-49.3,-49.2,-49.4,-49.6, -49.4,-49.3,-49.5,-49.6,-49.4,-49.3,-49.5,-49.7,-49.5,-49.6];
const shaS11 = [-62.6,-62.8,-63.0,-62.6,-62.0,-60.4,-61.6,-63.8,-65.5,-64.0, -65.5,-61.5,-60.2,-59.6,-59.2,-59.5,-59.8,-60.3,-62.5,-65.5, -61.8,-62.6,-63.2,-62.9,-63.4,-62.8,-63.5,-64.0,-63.6,-64.2, -65.5,-64.0,-63.6,-64.5,-65.5,-64.2,-63.8,-64.6,-63.5,-63.0, -63.4,-62.8,-61.5,-60.5,-62.0,-63.6,-64.2,-63.5,-64.0,-63.2, -63.8,-63.0,-62.6,-63.2,-62.8,-63.4,-62.9,-63.5,-62.0,-60.0, -59.4,-63.0,-64.4,-65.5,-64.6,-65.5,-64.2,-65.5,-64.8,-65.5, -65.5,-64.0,-62.0,-61.2,-61.0,-61.6,-63.8,-65.5,-64.0,-63.6];
const shaS12 = [-64.0,-64.2,-64.4,-64.3,-66,-66,-66,-66,-66,-66, -66,-66,-62.8,-61.8,-61.5,-62.0,-62.5,-64.0,-66,-66, -66,-66,-66,-66,-66,-66,-66,-66,-66,-66, -66,-66,-66,-66,-66,-66,-66,-66,-66,-66, -66,-66,-66,-66,-66,-66,-66,-66,-66,-66, -66,-66,-66,-66,-66,-66,-66,-66,-66,-63.6, -63.0,-66,-66,-66,-66,-66,-66,-66,-66,-66, -66,-66,-66,-64.2,-64.0,-64.5,-66,-66,-66,-66];
const shaS13 = [-66,-66,-66,-66,-66,-66,-66,-66,-66,-66, -66,-66,-66,-63.5,-63.0,-63.2,-64.0,-66,-66,-66, -66,-66,-66,-66,-66,-66,-66,-66,-66,-66, -66,-66,-66,-66,-66,-66,-66,-66,-66,-66, -66,-66,-66,-66,-66,-66,-66,-66,-66,-66, -66,-66,-66,-66,-66,-66,-66,-66,-66,-66, -66,-66,-66,-66,-66,-66,-66,-66,-66,-66, -66,-66,-66,-66,-66,-66,-66,-66,-66,-66];

// fill shades of the colour bins 0.5-0.55 ... 0.85-0.9 (values below 0.5 are white too)
const shades = ['#ffffff','#dcdcdc','#c0c0c0','#a6a6a6','#8b8b8b','#6c6c6c','#4a4a4a','#1c1c1c'];
const FONT = "'Liberation Sans', Arial, Helvetica, sans-serif";
const TXT = '#1a1a1a';

const panels = [
  {title:'NH Pacific', left:79, top:40, width:332, height:242, cbLeft:427, cbWidth:19, latX:22,
   yMin:27.6, yMax:65.1, yTicks:nhLatTicks, bg:2,
   bounds:[[nhpB0,3],[nhpB1,4],[nhpB2,5],[nhpB3,6],[nhpB4,5],[nhpB5,4],[nhpB6,3],[nhpB7,2],[nhpB8,1],[nhpB9,0],[nhpB10,0]]},
  {title:'NH Atlantic', left:587, top:40, width:332, height:241, cbLeft:933, cbWidth:21, latX:524,
   yMin:27.6, yMax:65.1, yTicks:nhLatTicks, bg:4,
   bounds:[[nhaTop,5],[nhaB6,4],[nhaB5,3],[nhaB4,2],[nhaB3,1],[nhaB2,0],[nhaB1,0],[nhaB0a,0],[nhaB0b,0],[nhaB0c,0]],
   band:{top:nhaBlobTop, bot:nhaBlobBot, shade:6}},
  {title:'SH Pacific', left:79, top:395, width:332, height:240, cbLeft:427, cbWidth:19, latX:22,
   yMin:-64.8, yMax:-27.7, yTicks:shLatTicks, bg:0,
   bounds:[[shpL1,0],[shpL2,1],[shpL3,2],[shpL4,3],[shpL5,4],[shpL6,5],[shpL7,6],[shpBlobTop,7],[shpBlobBot,6],[shpL8,5]]},
  {title:'SH Atlantic', left:587, top:395, width:332, height:240, cbLeft:933, cbWidth:21, latX:526,
   yMin:-64.8, yMax:-27.7, yTicks:shLatTicks, bg:0,
   bounds:[[shaS1,0],[shaS2,0],[shaS3,0],[shaS4,1],[shaS5,2],[shaS6,3],[shaS7,4],[shaS8,5],[shaS9,6],[shaS10,7],[shaS11,6],[shaS12,5],[shaS13,4]]}
];

const frame = {show:true, onZero:false, lineStyle:{color:'#6e6e6e', width:1}};
const LINE = {width:1.2, color:'#5c5c5c'};
const grids = [], xAxes = [], yAxes = [], series = [], graphic = [];
const pts = arr => years.map((y, i) => [y, arr[i] === null ? '-' : arr[i]]);
// runs of consecutive years where a closed contour exists
function runs(arr) {
  const out = []; let s = -1;
  arr.forEach((v, i) => {
    if (v !== null && s < 0) s = i;
    if ((v === null || i === arr.length - 1) && s >= 0) { out.push([s, v === null ? i - 1 : i]); s = -1; }
  });
  return out;
}

panels.forEach((p, pi) => {
  const g = grids.length;
  grids.push({left:p.left, top:p.top, width:p.width, height:p.height, show:true,
    backgroundColor:shades[p.bg], borderWidth:0, containLabel:false, outerBoundsMode:'none'});
  grids.push({left:p.cbLeft, top:p.top, width:p.cbWidth, height:p.height, show:false,
    containLabel:false, outerBoundsMode:'none'});
  const xi = xAxes.length, yi = yAxes.length;
  xAxes.push({type:'value', gridIndex:g, min:1, max:80, position:'bottom', z:10, axisLine:frame,
    axisTick:{show:true, inside:true, length:5, customValues:xTicks, lineStyle:{color:'#555'}},
    axisLabel:{customValues:xTicks, margin:12, fontSize:18, color:TXT, fontFamily:FONT},
    splitLine:{show:true, lineStyle:{color:'#9c9c9c', type:'dotted', width:1}}});
  xAxes.push({type:'value', gridIndex:g, min:1, max:80, position:'top', z:10, axisLine:frame,
    axisTick:{show:true, inside:true, length:5, customValues:xTicks, lineStyle:{color:'#555'}},
    axisLabel:{show:false}, splitLine:{show:false}});
  yAxes.push({type:'value', gridIndex:g, min:p.yMin, max:p.yMax, position:'left', z:10, axisLine:frame,
    axisTick:{show:true, inside:true, length:5, customValues:p.yTicks, lineStyle:{color:'#555'}},
    axisLabel:{customValues:p.yTicks, margin:7, fontSize:18, color:TXT, fontFamily:FONT},
    splitLine:{show:true, lineStyle:{color:'#9c9c9c', type:'dotted', width:1}}});
  yAxes.push({type:'value', gridIndex:g, min:p.yMin, max:p.yMax, position:'right', z:10, axisLine:frame,
    axisTick:{show:true, inside:true, length:5, customValues:p.yTicks, lineStyle:{color:'#555'}},
    axisLabel:{show:false}, splitLine:{show:false}});
  const cxi = xAxes.length, cyi = yAxes.length;
  xAxes.push({type:'value', gridIndex:g+1, min:0, max:1, position:'bottom', z:10, axisLine:frame,
    axisTick:{show:false}, axisLabel:{show:false}, splitLine:{show:false}});
  xAxes.push({type:'value', gridIndex:g+1, min:0, max:1, position:'top', z:10, axisLine:frame,
    axisTick:{show:false}, axisLabel:{show:false}, splitLine:{show:false}});
  yAxes.push({type:'value', gridIndex:g+1, min:0.5, max:0.9, position:'right', z:10, axisLine:frame,
    axisTick:{show:true, inside:true, length:4, customValues:cbTicks, lineStyle:{color:'#555'}},
    axisLabel:{customValues:cbTicks, margin:6, fontSize:18, color:TXT, fontFamily:FONT,
      formatter:v => v.toFixed(1)}, splitLine:{show:false}});
  yAxes.push({type:'value', gridIndex:g+1, min:0.5, max:0.9, position:'left', z:10, axisLine:frame,
    axisTick:{show:false}, axisLabel:{show:false}, splitLine:{show:false}});

  // filled bands (painter's order, each fills down to the bottom of the axis)
  p.bounds.forEach(([arr, ci]) => series.push({
    type:'line', xAxisIndex:xi, yAxisIndex:yi, data:pts(arr), symbol:'none', showSymbol:false,
    connectNulls:false, silent:true, z:2, clip:true,
    lineStyle:{width:0, opacity:0}, areaStyle:{color:shades[ci], opacity:1, origin:'start'}
  }));
  // closed contours (isolated cells): one polygon per run, between the two contour lines
  if (p.band) {
    const band = p.band;
    series.push({
      type:'custom', xAxisIndex:xi, yAxisIndex:yi, silent:true, z:2, clip:true,
      data: runs(band.top),
      renderItem: (params, api) => {
        const s = api.value(0), e = api.value(1);
        const ptsTop = [], ptsBot = [];
        for (let k = s; k <= e; k++) {
          ptsTop.push(api.coord([years[k], band.top[k]]));
          ptsBot.unshift(api.coord([years[k], band.bot[k]]));
        }
        return {type:'polygon', shape:{points:ptsTop.concat(ptsBot)}, style:{fill:shades[band.shade]}};
      }
    });
  }
  // contour lines on top
  const lineArrs = p.bounds.map(b => b[0]).concat(p.band ? [p.band.top, p.band.bot] : []);
  lineArrs.forEach(arr => series.push({
    type:'line', xAxisIndex:xi, yAxisIndex:yi, data:pts(arr), symbol:'none', showSymbol:false,
    connectNulls:false, silent:true, z:3, clip:true, lineStyle:LINE
  }));
  // colour bar
  series.push({
    type:'custom', xAxisIndex:cxi, yAxisIndex:cyi, silent:true, z:2,
    data: cbLevels.slice(0, -1).map((v, i) => [v, cbLevels[i + 1], i]),
    renderItem: (params, api) => {
      const a = api.coord([0, api.value(1)]);
      const b = api.coord([1, api.value(0)]);
      return {type:'rect', shape:{x:a[0], y:a[1], width:b[0]-a[0], height:b[1]-a[1]},
        style:{fill:shades[api.value(2)]}};
    }
  });

  const cx = p.left + p.width / 2;
  graphic.push({type:'text', x:cx, y:p.top - 17, style:{text:p.title, fontSize:21, fontFamily:FONT,
    fill:TXT, align:'center', verticalAlign:'middle'}});
  graphic.push({type:'text', x:cx, y:p.top + p.height + 48, style:{text:'year', fontSize:25, fontFamily:FONT,
    fill:TXT, align:'center', verticalAlign:'middle'}});
  graphic.push({type:'text', x:p.latX, y:p.top + p.height / 2, rotation:Math.PI / 2,
    style:{text:'lat', fontSize:27, fontFamily:FONT, fill:TXT, align:'center', verticalAlign:'middle'}});
});

const chart = echarts.init(document.getElementById('c'), null, {renderer:'canvas'});
chart.setOption({
  animation:false, backgroundColor:'#ffffff',
  grid:grids, xAxis:xAxes, yAxis:yAxes, series:series, graphic:graphic
});
</script>
</body></html>
